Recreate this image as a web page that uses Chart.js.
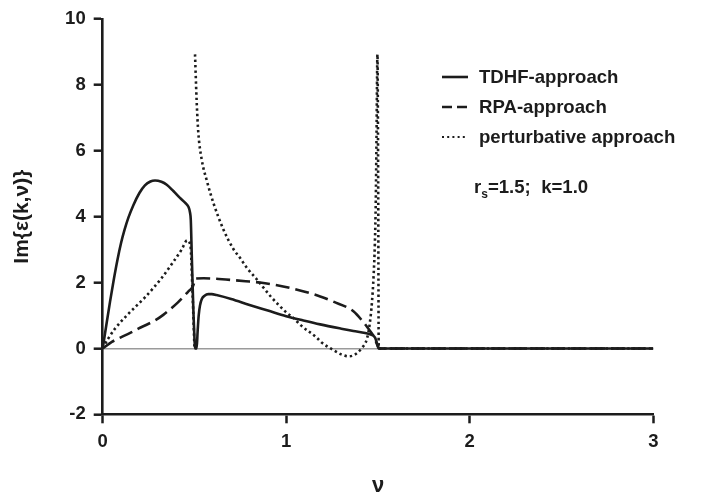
<!DOCTYPE html>
<html>
<head>
<meta charset="utf-8">
<script src="https://cdn.jsdelivr.net/npm/chart.js@4.4.1/dist/chart.umd.min.js"></script>
<style>
  html, body { margin: 0; padding: 0; background: #fff; }
  #wrap { width: 712px; height: 497px; }
</style>
</head>
<body>
<div id="wrap"><canvas id="chart" width="712" height="497"></canvas></div>
<script>
// ---- data ----
const tdhfNu  = [0, 0.02, 0.04, 0.06, 0.08, 0.1, 0.12, 0.14, 0.167, 0.2, 0.23, 0.26, 0.285, 0.32, 0.349, 0.385, 0.421, 0.45, 0.467, 0.476, 0.48, 0.485, 0.49, 0.495, 0.5, 0.503, 0.512, 0.517, 0.523, 0.53, 0.54, 0.555, 0.575, 0.595, 0.62, 0.7, 0.8, 0.9, 1.0, 1.1, 1.185, 1.3, 1.366, 1.43, 1.457, 1.484, 1.495, 1.503, 1.51, 2.0, 3.0];
const tdhfVal = [0, 0.72, 1.42, 2.08, 2.68, 3.2, 3.62, 3.97, 4.35, 4.72, 4.95, 5.07, 5.1, 5.06, 4.97, 4.78, 4.57, 4.42, 4.3, 4.12, 3.9, 2.9, 1.9, 1.0, 0.3, 0, 0, 0.5, 1.0, 1.3, 1.5, 1.6, 1.65, 1.65, 1.62, 1.5, 1.32, 1.15, 0.98, 0.84, 0.73, 0.6, 0.53, 0.47, 0.43, 0.33, 0.15, 0.02, 0, 0, 0];

const rpaNu  = [0, 0.05, 0.104, 0.15, 0.194, 0.25, 0.285, 0.33, 0.376, 0.41, 0.44, 0.465, 0.485, 0.496, 0.502, 0.55, 0.6, 0.7, 0.8, 0.857, 0.95, 1.075, 1.185, 1.257, 1.366, 1.42, 1.45, 1.475, 1.495, 1.503, 1.51, 2.0, 3.0];
const rpaVal = [0, 0.2, 0.35, 0.47, 0.6, 0.75, 0.85, 1.02, 1.23, 1.4, 1.57, 1.72, 1.83, 1.95, 2.12, 2.13, 2.12, 2.08, 2.03, 2.0, 1.92, 1.76, 1.58, 1.42, 1.13, 0.8, 0.58, 0.38, 0.12, 0.01, 0, 0, 0];

const pertNu  = [0, 0.03, 0.067, 0.14, 0.23, 0.32, 0.385, 0.43, 0.46, 0.478, 0.49, 0.5, 0.502, 0.503, 0.512, 0.521, 0.54, 0.567, 0.603, 0.657, 0.712, 0.748, 0.785, 0.839, 0.92, 1.003, 1.04, 1.08, 1.166, 1.193, 1.257, 1.3, 1.339, 1.37, 1.41, 1.44, 1.455, 1.467, 1.476, 1.483, 1.488, 1.492, 1.497, 1.501, 1.504, 1.51, 2.0, 3.0];
const pertVal = [0, 0.3, 0.6, 1.05, 1.55, 2.13, 2.63, 3.0, 3.28, 3.12, 1.6, 0, null, 8.93, 7.5, 6.55, 5.72, 5.1, 4.42, 3.62, 3.02, 2.75, 2.45, 2.1, 1.55, 1.08, 0.92, 0.7, 0.33, 0.18, -0.05, -0.18, -0.24, -0.2, 0.0, 0.3, 0.75, 1.4, 2.2, 3.2, 4.5, 6.5, 8.93, 5.0, 0, 0, 0, 0];

const seriesLabels = ['TDHF-approach', 'RPA-approach', 'perturbative approach'];
const xTicks = [0, 1, 2, 3];
const yTicks = [-2, 0, 2, 4, 6, 8, 10];
const paramText = { r: 'r', sub: 's', rest: '=1.5;  k=1.0' };

const pts = (xs, ys) => xs.map((x, i) => ({ x, y: ys[i] }));

const INK = '#1c1c1c';
const FONT = '"Liberation Sans", Arial, Helvetica, sans-serif';

// ---- legend + annotation drawn on canvas ----
const legendPlugin = {
  id: 'figLegend',
  afterDraw(chart) {
    const { ctx } = chart;
    const rows = [77, 107, 137];
    const x0 = 442, x1 = 468, tx = 479;
    ctx.save();
    ctx.font = 'bold 18.6px ' + FONT;
    ctx.textBaseline = 'middle';
    ctx.fillStyle = INK;
    chart.data.datasets.forEach((ds, i) => {
      const y = rows[i];
      ctx.beginPath();
      ctx.strokeStyle = ds.borderColor;
      ctx.lineWidth = i === 2 ? 2 : ds.borderWidth;
      ctx.setLineDash(i === 1 ? [10, 5] : (i === 2 ? [2, 3.2] : []));
      ctx.moveTo(x0, y);
      ctx.lineTo(x1, y);
      ctx.stroke();
      ctx.setLineDash([]);
      ctx.fillText(seriesLabels[i], tx, y + 1);
    });
    // r_s=1.5;  k=1.0
    let x = 474;
    const yb = 193;
    ctx.textBaseline = 'alphabetic';
    ctx.fillText(paramText.r, x, yb);
    x += ctx.measureText(paramText.r).width;
    ctx.font = 'bold 12px ' + FONT;
    ctx.fillText(paramText.sub, x, yb + 5);
    x += ctx.measureText(paramText.sub).width;
    ctx.font = 'bold 18.6px ' + FONT;
    ctx.fillText(paramText.rest, x, yb);
    ctx.restore();
  }
};

const baseLine = { showLine: true, pointRadius: 0, fill: false, borderColor: INK, cubicInterpolationMode: 'monotone', spanGaps: false };

new Chart(document.getElementById('chart'), {
  type: 'scatter',
  data: {
    datasets: [
      Object.assign({}, baseLine, { label: seriesLabels[0], data: pts(tdhfNu, tdhfVal), borderWidth: 2.6 }),
      Object.assign({}, baseLine, { label: seriesLabels[1], data: pts(rpaNu, rpaVal), borderWidth: 2.6, borderDash: [14, 6] }),
      Object.assign({}, baseLine, { label: seriesLabels[2], data: pts(pertNu, pertVal), borderWidth: 2.6, borderDash: [2.4, 3] })
    ]
  },
  options: {
    responsive: false,
    animation: false,
    devicePixelRatio: 1,
    layout: { padding: { top: 12.7, right: 58.7, left: 0, bottom: 0 } },
    plugins: { legend: { display: false }, tooltip: { enabled: false } },
    scales: {
      x: {
        type: 'linear', min: 0, max: 3,
        afterBuildTicks: (s) => { s.ticks = xTicks.map(v => ({ value: v })); },
        afterFit: (s) => { s.height = 82.7; },
        ticks: { color: INK, padding: 8, font: { family: FONT, size: 18.5, weight: 'bold' } },
        grid: { drawOnChartArea: false, tickLength: 9, tickColor: INK, tickWidth: 2.5 },
        border: { color: INK, width: 2.6 },
        title: { display: true, text: 'ν', color: INK, padding: { top: 0, bottom: 0 }, font: { family: FONT, size: 22, weight: 'bold', lineHeight: 1.0 } }
      },
      y: {
        type: 'linear', min: -2, max: 10,
        afterBuildTicks: (s) => { s.ticks = yTicks.map(v => ({ value: v })); },
        afterFit: (s) => { s.width = 102.7; },
        ticks: { color: INK, padding: 8, font: { family: FONT, size: 18.5, weight: 'bold' } },
        grid: {
          drawOnChartArea: true, tickLength: 9, tickColor: INK, tickWidth: 2.5,
          color: (c) => (c.tick && c.tick.value === 0 ? '#9a9a9a' : 'rgba(0,0,0,0)'),
          lineWidth: 1.4
        },
        border: { color: INK, width: 2.6 },
        title: { display: true, text: 'Im{ε(k,ν)}', color: INK, padding: { top: 10, bottom: 0 }, font: { family: FONT, size: 21, weight: 'bold' } }
      }
    }
  },
  plugins: [legendPlugin]
});
</script>
</body>
</html>
